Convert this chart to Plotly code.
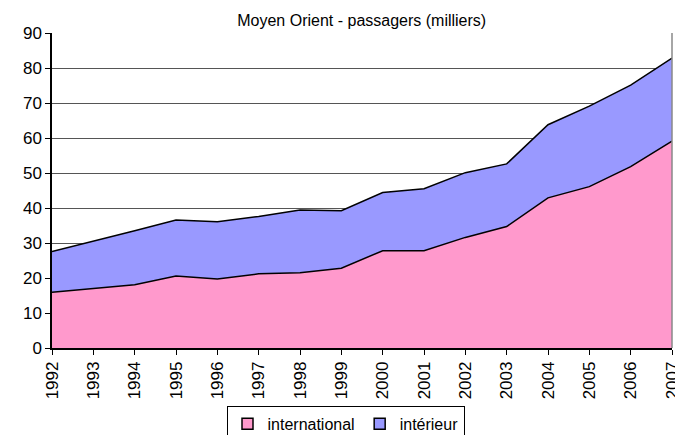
import plotly.graph_objects as go

years = list(range(1992, 2008))
international = [15.9, 16.9, 18.1, 20.6, 19.7, 21.2, 21.5, 22.8, 27.8, 27.8, 31.6, 34.7, 42.9, 46.1, 51.8, 59.1]
total = [27.6, 30.5, 33.5, 36.6, 36.1, 37.6, 39.4, 39.2, 44.4, 45.5, 50.1, 52.6, 63.8, 69.1, 75.1, 82.8]
interieur = [round(t - i, 2) for t, i in zip(total, international)]
y_ticks = list(range(0, 91, 10))
series_names = ["international", "intérieur"]
series_colors = ["#FF99CC", "#9999FF"]

fig = go.Figure()
for name, vals, col in zip(series_names, [international, interieur], series_colors):
    fig.add_trace(go.Scatter(x=years, y=vals, name=name, stackgroup="s",
                             mode="lines", line=dict(color="black", width=1.5),
                             fillcolor=col, showlegend=False))
for name, col in zip(series_names, series_colors):
    fig.add_trace(go.Scatter(x=[None], y=[None], name=name, mode="markers",
                             marker=dict(symbol="square", size=11, color=col,
                                         line=dict(color="black", width=1.5))))

# page body has an 8px margin, so the figure is sized to fit the 683x435 window
fig.update_layout(
    width=675, height=427,
    margin=dict(l=44, r=11, t=25, b=87),
    paper_bgcolor="white", plot_bgcolor="white",
    font=dict(family="Liberation Sans, Arial", size=16, color="black"),
    title=dict(text="Moyen Orient - passagers (milliers)", x=0.524, xanchor="center",
               y=0.972, yanchor="middle", font=dict(size=16)),
    showlegend=True,
    legend=dict(orientation="h", traceorder="normal", x=0.5, xanchor="center",
                xref="container", yref="container", y=0.068, yanchor="top",
                bordercolor="black", borderwidth=1, font=dict(size=16),
                itemwidth=30, tracegroupgap=0),
    xaxis=dict(range=[1992, 2007], tickvals=years, ticktext=[str(y) for y in years],
               tickangle=-90, ticks="outside", ticklen=5, tickcolor="black",
               showline=True, linecolor="black", linewidth=1.5, showgrid=False,
               zeroline=False, tickfont=dict(size=17), automargin=False),
    yaxis=dict(range=[0, 90], tickvals=y_ticks, ticks="outside", ticklen=5,
               tickcolor="black", showline=True, linecolor="black", linewidth=1.5,
               showgrid=True, gridcolor="#555555", gridwidth=1, zeroline=False,
               tickfont=dict(size=17), automargin=False),
    shapes=[dict(type="line", xref="paper", yref="paper", x0=1, x1=1, y0=0, y1=1,
                 line=dict(color="#888888", width=1.5))],
)

fig.write_html("out.html")
